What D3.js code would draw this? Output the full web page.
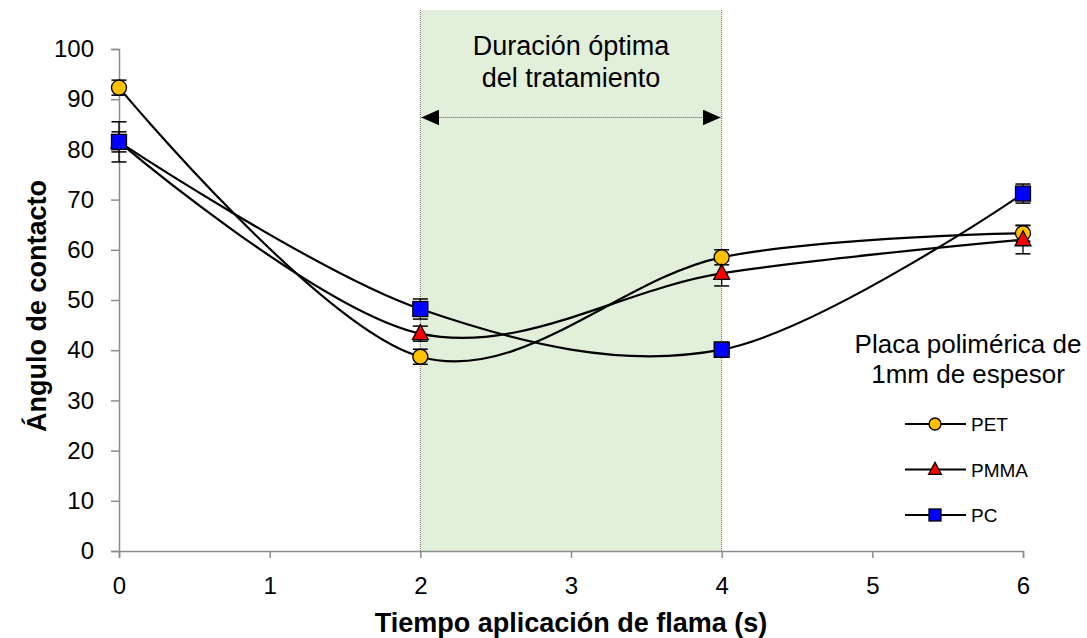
<!DOCTYPE html>
<html>
<head>
<meta charset="utf-8">
<script src="https://cdn.jsdelivr.net/npm/d3@7"></script>
<style>
body { margin: 0; background: #fff; }
</style>
</head>
<body>
<div id="chart"></div>
<script>
// tiempos de aplicación (s)
const times = [0, 2, 4, 6];
const xTicks = [0, 1, 2, 3, 4, 5, 6];
const yTicks = [0, 10, 20, 30, 40, 50, 60, 70, 80, 90, 100];

const petValues = [92.3, 38.7, 58.5, 63.3];
const petErrors = [1.5, 1.5, 1.5, 1.6];
const pmmaValues = [81.5, 43.3, 55.3, 62.0];
const pmmaErrors = [2.0, 1.5, 2.5, 2.8];
const pcValues = [81.5, 48.2, 40.1, 71.2];
const pcErrors = [4.0, 2.0, 1.5, 1.9];

const seriesNames = ["PET", "PMMA", "PC"];
const bandRange = [2, 4];

var width = 1087, height = 638;
var font = "'Liberation Sans', Arial, sans-serif";

var svg = d3.select("#chart")
    .append("svg")
    .attr("width", width)
    .attr("height", height)
    .style("font-family", font);

var x = d3.scaleLinear().domain([0, 6]).range([119, 1023]);
var y = d3.scaleLinear().domain([0, 100]).range([551, 49]);

// zona de duración óptima
svg.append("rect")
    .attr("x", x(bandRange[0]))
    .attr("y", 10)
    .attr("width", x(bandRange[1]) - x(bandRange[0]))
    .attr("height", y(0) - 10)
    .attr("fill", "#e2efda");

bandRange.forEach(function(t){
    svg.append("line")
    .attr("x1", x(t)).attr("x2", x(t))
    .attr("y1", 10).attr("y2", y(0))
    .attr("stroke", "#666")
    .attr("stroke-width", 1)
    .attr("stroke-dasharray", "1,1");
});

// ejes
var yAxis = svg.append("g")
    .attr("transform", "translate(" + x(0) + ",0)")
    .call(d3.axisLeft(y).tickValues(yTicks).tickFormat(d3.format("d")).tickSize(8).tickPadding(17));
var xAxis = svg.append("g")
    .attr("transform", "translate(0," + y(0) + ")")
    .call(d3.axisBottom(x).tickValues(xTicks).tickFormat(d3.format("d")).tickSize(7).tickPadding(19));

[yAxis, xAxis].forEach(function(a){
    a.select(".domain").attr("stroke", "#8c8c8c").attr("stroke-width", 1.5);
    a.selectAll(".tick line").attr("stroke", "#8c8c8c").attr("stroke-width", 1.5);
    a.selectAll(".tick text")
    .style("font-family", font)
    .style("font-size", "24px")
    .attr("fill", "#000");
});

// flecha
var defs = svg.append("defs");
defs.append("marker")
    .attr("id", "arrowEnd")
    .attr("viewBox", "0 0 10 10")
    .attr("refX", 10).attr("refY", 5)
    .attr("markerWidth", 18).attr("markerHeight", 16)
    .attr("markerUnits", "userSpaceOnUse")
    .attr("orient", "auto-start-reverse")
    .attr("preserveAspectRatio", "none")
    .append("path")
    .attr("d", "M0,0 L10,5 L0,10 Z")
    .attr("fill", "#000");

svg.append("line")
    .attr("x1", x(bandRange[0]) + 1).attr("x2", x(bandRange[1]) - 1)
    .attr("y1", 117.5).attr("y2", 117.5)
    .attr("stroke", "#555")
    .attr("stroke-width", 1)
    .attr("stroke-dasharray", "1,1")
    .attr("marker-start", "url(#arrowEnd)")
    .attr("marker-end", "url(#arrowEnd)");

var midX = (x(bandRange[0]) + x(bandRange[1])) / 2;
svg.append("text")
    .attr("x", midX).attr("y", 55)
    .attr("text-anchor", "middle")
    .style("font-size", "27px")
    .text("Duración óptima");
svg.append("text")
    .attr("x", midX).attr("y", 87)
    .attr("text-anchor", "middle")
    .style("font-size", "27px")
    .text("del tratamiento");

// series
var series = [
    {name: seriesNames[0], values: petValues, errors: petErrors, fill: "#ffc000", shape: "circle"},
    {name: seriesNames[1], values: pmmaValues, errors: pmmaErrors, fill: "#ff0000", shape: "triangle"},
    {name: seriesNames[2], values: pcValues, errors: pcErrors, fill: "#0000ff", shape: "square"}
];

var line = d3.line()
    .x(d => x(d.t))
    .y(d => y(d.v))
    .curve(d3.curveCardinal.tension(0));

function pts(s){
    return times.map((t, i) => ({t: t, v: s.values[i], e: s.errors[i]}));
}

function drawMarker(g, shape, fill, cx, cy, k){
    if (shape === "circle") {
        g.append("circle").attr("cx", cx).attr("cy", cy).attr("r", 7.5 * k)
        .attr("fill", fill).attr("stroke", "#000").attr("stroke-width", 1.3);
    } else if (shape === "square") {
        g.append("rect").attr("x", cx - 7.5 * k).attr("y", cy - 7.5 * k)
        .attr("width", 15 * k).attr("height", 15 * k)
        .attr("fill", fill).attr("stroke", "#000").attr("stroke-width", 1.3);
    } else {
        g.append("path")
        .attr("d", "M" + cx + "," + (cy - 9 * k) + " L" + (cx + 8 * k) + "," + (cy + 6 * k) + " L" + (cx - 8 * k) + "," + (cy + 6 * k) + " Z")
        .attr("fill", fill).attr("stroke", "#000").attr("stroke-width", 1.3);
    }
}

series.forEach(function(s){
    svg.append("path")
    .datum(pts(s))
    .attr("d", line)
    .attr("fill", "none")
    .attr("stroke", "#000")
    .attr("stroke-width", 2.2);
});

series.forEach(function(s){
    var g = svg.append("g");
    pts(s).forEach(function(d){
        var cx = x(d.t);
        g.append("line").attr("x1", cx).attr("x2", cx)
        .attr("y1", y(d.v - d.e)).attr("y2", y(d.v + d.e))
        .attr("stroke", "#000").attr("stroke-width", 1.3);
        [d.v - d.e, d.v + d.e].forEach(function(v){
            g.append("line").attr("x1", cx - 7.5).attr("x2", cx + 7.5)
            .attr("y1", y(v)).attr("y2", y(v))
            .attr("stroke", "#000").attr("stroke-width", 1.5);
        });
    });
});

series.forEach(function(s){
    var g = svg.append("g");
    pts(s).forEach(function(d){
        drawMarker(g, s.shape, s.fill, x(d.t), y(d.v), 1);
    });
});

// leyenda
svg.append("text")
    .attr("x", 968).attr("y", 353)
    .attr("text-anchor", "middle")
    .style("font-size", "26px")
    .text("Placa polimérica de");
svg.append("text")
    .attr("x", 968).attr("y", 383)
    .attr("text-anchor", "middle")
    .style("font-size", "26px")
    .text("1mm de espesor");

series.forEach(function(s, i){
    var ly = 424 + i * 45.5;
    var g = svg.append("g");
    g.append("line").attr("x1", 905).attr("x2", 966)
    .attr("y1", ly).attr("y2", ly)
    .attr("stroke", "#000").attr("stroke-width", 2);
    drawMarker(g, s.shape, s.fill, 935, ly, 0.8);
    g.append("text")
    .attr("x", 971).attr("y", ly + 7)
    .style("font-size", "19px")
    .text(s.name);
});

// títulos de ejes
svg.append("text")
    .attr("x", 571).attr("y", 632)
    .attr("text-anchor", "middle")
    .style("font-size", "27px")
    .attr("font-weight", "bold")
    .text("Tiempo aplicación de flama (s)");

svg.append("text")
    .attr("transform", "translate(46,306) rotate(-90)")
    .attr("text-anchor", "middle")
    .style("font-size", "27px")
    .attr("font-weight", "bold")
    .text("Ángulo de contacto");
</script>
</body>
</html>
